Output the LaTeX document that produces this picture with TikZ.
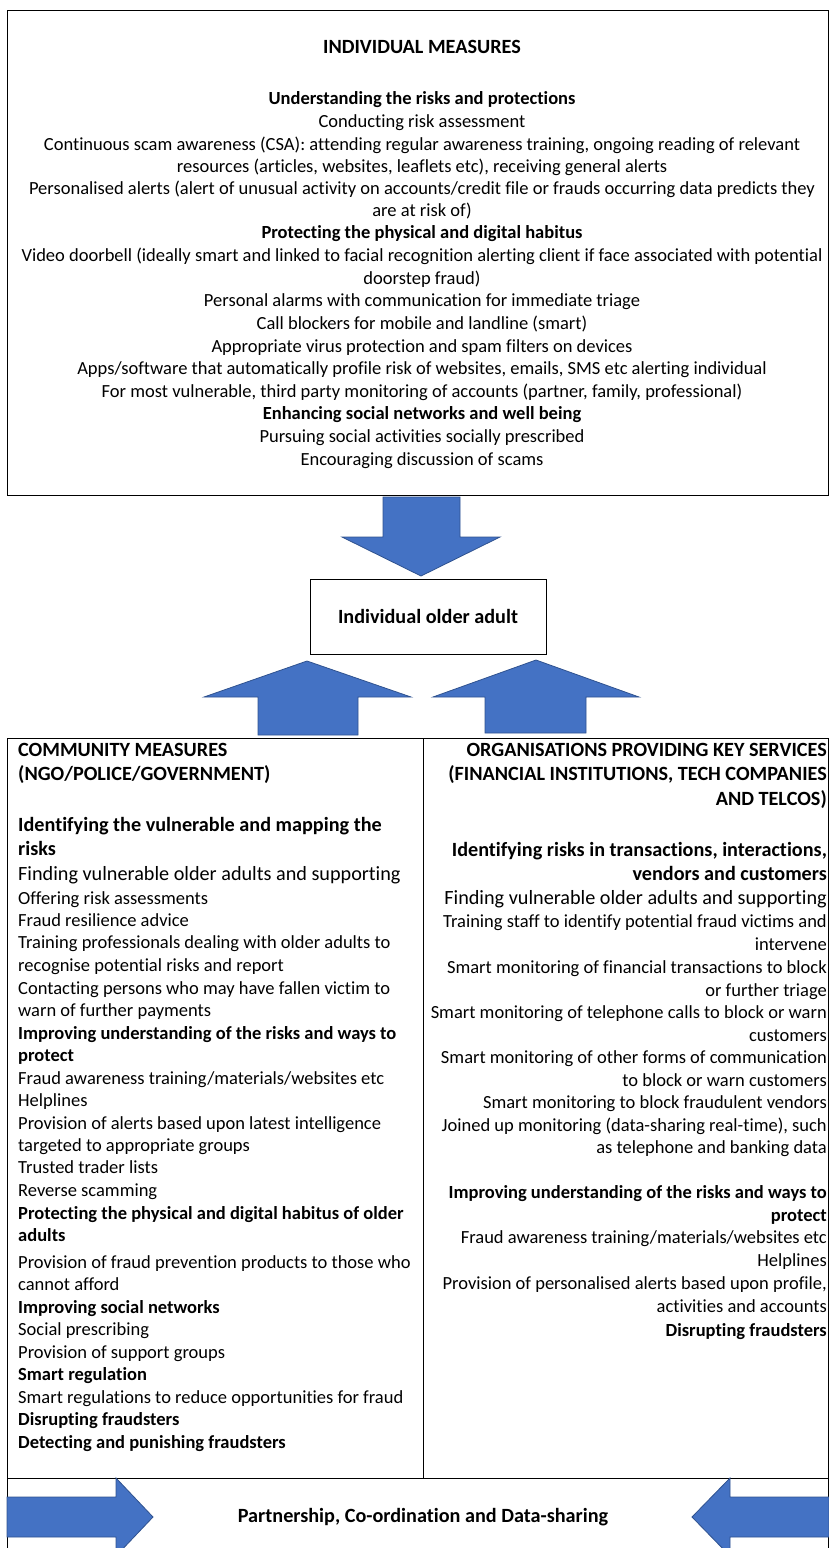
\documentclass[tikz,border=0pt]{standalone}
\usepackage{fontspec}
\setmainfont{Carlito}[Ligatures=NoCommon]
\usetikzlibrary{positioning}
\definecolor{ArrowBlue}{RGB}{68,114,196}
\definecolor{ArrowEdge}{RGB}{47,82,143}

\begin{document}
\begin{tikzpicture}[x=1pt, y=-1pt,
    frame/.style={draw=black, line width=0.9pt},
    blockarrow/.style={fill=ArrowBlue, draw=ArrowEdge, line width=0.8pt, line join=miter},
    topline/.style={anchor=mid, inner sep=0pt, yshift=-3pt, font=\fontsize{18.5}{22}\selectfont},
    leftline/.style={anchor=mid west, inner sep=0pt, yshift=-3pt, font=\fontsize{18.5}{22}\selectfont},
    rightline/.style={anchor=mid east, inner sep=0pt, yshift=-3pt, font=\fontsize{18.5}{22}\selectfont},
    big/.style={font=\fontsize{20.2}{24}\selectfont},
    bigbold/.style={font=\fontsize{20.2}{24}\selectfont\bfseries}]
    \useasboundingbox (0,0) rectangle (829,1548);

    % boxes and table lines
    \draw[frame] (7,10) rectangle (828,495);
    \draw[frame] (7,1560) -- (7,738) -- (828,738) -- (828,1560);
    \draw[frame] (423,738) -- (423,1478);
    \draw[frame] (7,1478) -- (828,1478);

    % individual measures
    \node[topline, bigbold] (ind0) at (422,48) {INDIVIDUAL MEASURES};
    \foreach \y/\t [count=\i] in {
        99/{\bfseries Understanding the risks and protections},
        122/{Conducting risk assessment},
        145/{Continuous scam awareness (CSA): attending regular awareness training, ongoing reading of relevant},
        167/{resources (articles, websites, leaflets etc), receiving general alerts},
        189/{Personalised alerts (alert of unusual activity on accounts/credit file or frauds occurring data predicts they},
        211/{are at risk of)},
        233/{\bfseries Protecting the physical and digital habitus},
        256/{Video doorbell (ideally smart and linked to facial recognition alerting client if face associated with potential},
        279/{doorstep fraud)},
        301/{Personal alarms with communication for immediate triage},
        324/{Call blockers for mobile and landline (smart)},
        347/{Appropriate virus protection and spam filters on devices},
        369/{Apps/software that automatically profile risk of websites, emails, SMS etc alerting individual},
        392/{For most vulnerable, third party monitoring of accounts (partner, family, professional)},
        414/{\bfseries Enhancing social networks and well being},
        437/{Pursuing social activities socially prescribed},
        460/{Encouraging discussion of scams}}
      \node[topline] (ind\i) at (422,\y) {\t};

    % the older adult in the middle
    \node[frame, minimum width=236pt, minimum height=75pt, inner sep=0pt, bigbold] (adult) at (428,616.5) {Individual older adult};

    % block arrows pointing at the older adult
    \draw[blockarrow] (383,497) -- (460,497) -- (460,537) -- (500,537) -- (421,576) -- (342,537) -- (383,537) -- cycle;
    \draw[blockarrow] (258,735) -- (258,697) -- (204,697) -- (307,661) -- (411,697) -- (358,697) -- (358,735) -- cycle;
    \draw[blockarrow] (485,733) -- (485,697) -- (433,697) -- (536,660) -- (639,697) -- (586,697) -- (586,733) -- cycle;

    % community measures
    \node[leftline, bigbold] (comA) at (18,751) {COMMUNITY MEASURES};
    \node[leftline, bigbold] (comB) at (18,775) {(NGO/POLICE/GOVERNMENT)};
    \node[leftline, bigbold] (comC) at (18,826) {Identifying the vulnerable and mapping the};
    \node[leftline, bigbold] (comD) at (18,850) {risks};
    \node[leftline, big] (comE) at (18,875) {Finding vulnerable older adults and supporting};
    \foreach \y/\t [count=\i] in {
        899/{Offering risk assessments},
        921/{Fraud resilience advice},
        943/{Training professionals dealing with older adults to},
        966/{recognise potential risks and report},
        989/{Contacting persons who may have fallen victim to},
        1011/{warn of further payments},
        1034/{\bfseries Improving understanding of the risks and ways to},
        1056/{\bfseries protect},
        1079/{Fraud awareness training/materials/websites etc},
        1101/{Helplines},
        1124/{Provision of alerts based upon latest intelligence},
        1146/{targeted to appropriate groups},
        1168/{Trusted trader lists},
        1191/{Reverse scamming},
        1214/{\bfseries Protecting the physical and digital habitus of older},
        1236/{\bfseries adults},
        1263/{Provision of fraud prevention products to those who},
        1285/{cannot afford},
        1308/{\bfseries Improving social networks},
        1330/{Social prescribing},
        1353/{Provision of support groups},
        1375/{\bfseries Smart regulation},
        1398/{Smart regulations to reduce opportunities for fraud},
        1420/{\bfseries Disrupting fraudsters},
        1443/{\bfseries Detecting and punishing fraudsters}}
      \node[leftline] (com\i) at (18,\y) {\t};

    % organisations providing key services
    \node[rightline, bigbold] (orgA) at (827,751) {ORGANISATIONS PROVIDING KEY SERVICES};
    \node[rightline, bigbold] (orgB) at (827,775) {(FINANCIAL INSTITUTIONS, TECH COMPANIES};
    \node[rightline, bigbold] (orgC) at (827,800) {AND TELCOS)};
    \node[rightline, bigbold] (orgD) at (827,851) {Identifying risks in transactions, interactions,};
    \node[rightline, bigbold] (orgE) at (827,875) {vendors and customers};
    \node[rightline, big] (orgF) at (827,899) {Finding vulnerable older adults and supporting};
    \foreach \y/\t [count=\i] in {
        922/{Training staff to identify potential fraud victims and},
        945/{intervene},
        968/{Smart monitoring of financial transactions to block},
        991/{or further triage},
        1013/{Smart monitoring of telephone calls to block or warn},
        1036/{customers},
        1058/{Smart monitoring of other forms of communication},
        1081/{to block or warn customers},
        1103/{Smart monitoring to block fraudulent vendors},
        1126/{Joined up monitoring (data-sharing real-time), such},
        1148/{as telephone and banking data},
        1193/{\bfseries Improving understanding of the risks and ways to},
        1216/{\bfseries protect},
        1238/{Fraud awareness training/materials/websites etc},
        1261/{Helplines},
        1284/{Provision of personalised alerts based upon profile,},
        1307/{activities and accounts},
        1331/{\bfseries Disrupting fraudsters}}
      \node[rightline] (org\i) at (827,\y) {\t};

    % partnership row
    \draw[blockarrow] (7,1497) -- (116,1497) -- (116,1478) -- (153,1517) -- (116,1556) -- (116,1537) -- (7,1537) -- cycle;
    \draw[blockarrow] (829,1497) -- (730,1497) -- (730,1478) -- (692,1517) -- (730,1556) -- (730,1537) -- (829,1537) -- cycle;
    \node[anchor=mid, inner sep=0pt, yshift=-3pt, bigbold] (partner) at (423,1517) {Partnership, Co-ordination and Data-sharing};
\end{tikzpicture}
\end{document}
